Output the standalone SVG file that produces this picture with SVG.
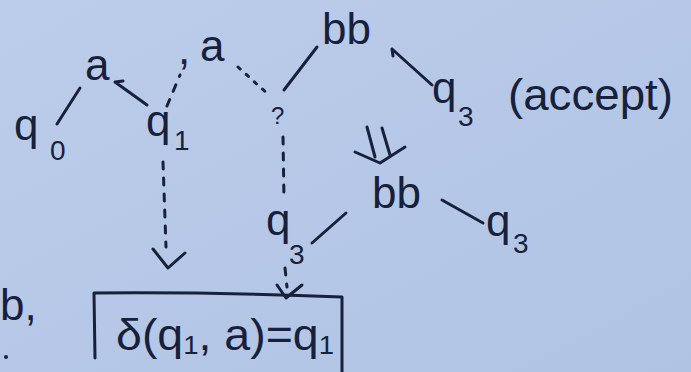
<svg xmlns="http://www.w3.org/2000/svg" width="691" height="372" viewBox="0 0 691 372">
<defs>
<linearGradient id="bg" x1="0" y1="0" x2="1" y2="1">
<stop offset="0" stop-color="#bccdea"/>
<stop offset="1" stop-color="#b0c3e3"/>
</linearGradient>
</defs>
<style>
text{font-family:"Liberation Sans","DejaVu Sans",sans-serif;fill:#18213b}
.m{font-size:44px}
.s{font-size:28px}
.ln{stroke:#18213b;stroke-width:3;fill:none;stroke-linecap:round;stroke-linejoin:round}
.dash{stroke-dasharray:7 9}
.dot{stroke-dasharray:3 8}
</style>
<rect width="691" height="372" fill="url(#bg)"/>
<g id="connectors" class="ln">
<path d="M57 124 L80 88"/>
<path d="M147 105 L115 82 M115 82 L123 81"/>
<path class="dash" d="M167 106 L180 75"/>
<path class="dot" d="M238 67 L270 96"/>
<path d="M284 90 L317 47"/>
<path d="M432 85 L392 49 M392 49 L393 56"/>
<path class="dash" d="M163 162 L166 247"/>
<path d="M153 249 L168 268 L185 253"/>
<path class="dash" d="M283 137 L284 200"/>
<path class="dash" d="M285 268 L287 287"/>
<path d="M277 285 L286 298 L302 285"/>
<path d="M312 243 L346 213"/>
<path d="M442 200 L483 223"/>
</g>
<g id="q0"><text class="m" x="14" y="140">q</text><text class="s" x="50" y="160">0</text></g>
<g id="a1"><text class="m" x="85" y="80">a</text></g>
<g id="q1"><text class="m" x="146" y="136">q</text><text class="s" x="174" y="150">1</text></g>
<g id="a2"><text class="m" x="178" y="64" font-size="30px">,</text><text class="m" x="200" y="61">a</text></g>
<g id="unk"><text x="271" y="124" font-size="24px">?</text></g>
<g id="bb1"><text class="m" x="322" y="44">bb</text></g>
<g id="q3accept"><text class="m" x="432" y="103">q</text><text class="s" x="458" y="126">3</text><text class="m" x="508" y="110" textLength="165" lengthAdjust="spacingAndGlyphs">(accept)</text></g>
<g id="implies" class="ln"><path d="M367 127 L375 157 M382 128 L390 155 M355 152 L380 163 L405 147"/></g>
<g id="bb2"><text class="m" x="372" y="208">bb</text></g>
<g id="q3b"><text class="m" x="486" y="236">q</text><text class="s" x="513" y="253">3</text></g>
<g id="q3c"><text class="m" x="266" y="235" font-size="36px">q</text><text class="s" x="289" y="264" font-size="22px">3</text></g>
<g id="b"><text class="m" x="0" y="320">b,</text><circle cx="6" cy="357" r="2" fill="#18213b"/></g>
<g id="box">
<path class="ln" d="M95 358 L94 293 Q220 292 342 297 L342 372"/>
<text class="m" x="116" y="350" textLength="218" lengthAdjust="spacingAndGlyphs">δ(q<tspan font-size="26px" dy="4">1</tspan><tspan dy="-4">, a)=q</tspan><tspan font-size="26px" dy="4">1</tspan></text>
</g>
</svg>
